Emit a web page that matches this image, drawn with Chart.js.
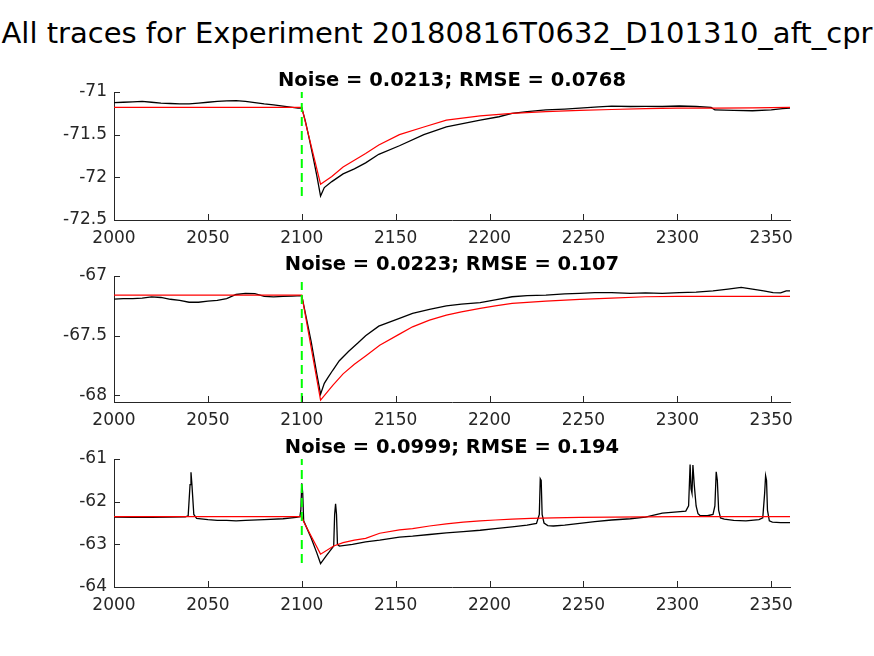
<!DOCTYPE html>
<html>
<head>
<meta charset="utf-8">
<script src="https://cdn.jsdelivr.net/npm/chart.js@4.4.1/dist/chart.umd.min.js"></script>
<style>
  body { margin: 0; background: #fff; }
  #fig { position: relative; width: 874px; height: 656px; overflow: hidden; background: #fff; }
  #fig canvas { position: absolute; left: 0; }
  #mainTitle {
    position: absolute; left: -20px; top: 16px; width: 914px; text-align: center;
    white-space: nowrap; font: 29px "DejaVu Sans", sans-serif; color: #000;
  }
</style>
</head>
<body>
<div id="fig">
  <div id="mainTitle">All traces for Experiment 20180816T0632_D101310_aft_cpr</div>
  <canvas id="c1" width="874" height="208" style="top:52px"></canvas>
  <canvas id="c2" width="874" height="206" style="top:236px"></canvas>
  <canvas id="c3" width="874" height="208" style="top:419px"></canvas>
</div>
<script>
// tick labels
const xTicks = [2000, 2050, 2100, 2150, 2200, 2250, 2300, 2350];
const yTicks1 = [-72.5, -72, -71.5, -71];
const yTicks2 = [-68, -67.5, -67];
const yTicks3 = [-64, -63, -62, -61];

// stimulus marker
const stimT = 2100;

// trace 1
const t1Black = [2000, 2005, 2010, 2015, 2020, 2025, 2030, 2035, 2040, 2045, 2050, 2055, 2060, 2065, 2070, 2075, 2080, 2085, 2090, 2095, 2098, 2100,
  2102, 2104, 2106, 2108, 2110, 2112, 2116, 2122, 2128, 2134, 2141, 2152, 2165, 2177, 2195, 2205, 2212, 2220, 2230, 2240, 2248, 2258, 2265,
  2275, 2283, 2292, 2301, 2310, 2318, 2320, 2330, 2340, 2350, 2356, 2360];
const v1Black = [-71.125, -71.12, -71.115, -71.11, -71.12, -71.13, -71.135, -71.14, -71.14, -71.13, -71.12, -71.11, -71.105, -71.10, -71.11, -71.125, -71.14, -71.15, -71.165, -71.18, -71.19, -71.185,
  -71.35, -71.55, -71.76, -71.98, -72.22, -72.12, -72.05, -71.96, -71.90, -71.83, -71.73, -71.63, -71.50, -71.41, -71.33, -71.29, -71.25, -71.23, -71.21, -71.20, -71.19, -71.175, -71.165,
  -71.17, -71.168, -71.17, -71.164, -71.17, -71.18, -71.21, -71.215, -71.22, -71.21, -71.195, -71.19];
const t1Red = [2000, 2100, 2110, 2116, 2122, 2128, 2134, 2141, 2152, 2165, 2177, 2195, 2212, 2230, 2248, 2265, 2283, 2300, 2320, 2340, 2360];
const v1Red = [-71.18, -71.18, -72.08, -71.99, -71.88, -71.80, -71.72, -71.62, -71.50, -71.41, -71.33, -71.28, -71.25, -71.23, -71.215, -71.205, -71.195, -71.19, -71.19, -71.185, -71.18];
const green1 = [-72.22, -71.0];

// trace 2
const t2Black = [2000, 2005, 2010, 2015, 2020, 2025, 2030, 2035, 2040, 2045, 2050, 2055, 2060, 2065, 2070, 2075, 2080, 2085, 2090, 2095, 2100,
  2102, 2105, 2108, 2110, 2112, 2114, 2116.5, 2120, 2125, 2130, 2134, 2141, 2152, 2159, 2168, 2177, 2185, 2195, 2203, 2212, 2220, 2230, 2240,
  2248, 2256, 2265, 2275, 2283, 2292, 2301, 2310, 2319, 2327, 2334, 2340, 2346, 2351, 2355, 2358, 2360];
const v2Black = [-67.193, -67.19, -67.19, -67.185, -67.175, -67.18, -67.195, -67.205, -67.22, -67.22, -67.21, -67.205, -67.19, -67.155, -67.145, -67.148, -67.17, -67.175, -67.17, -67.168, -67.165,
  -67.32, -67.55, -67.82, -67.99, -67.90, -67.85, -67.79, -67.71, -67.63, -67.56, -67.50, -67.42, -67.356, -67.314, -67.28, -67.25, -67.235, -67.224, -67.20, -67.174, -67.165, -67.16, -67.15,
  -67.146, -67.14, -67.14, -67.145, -67.142, -67.145, -67.14, -67.135, -67.125, -67.11, -67.095, -67.11, -67.125, -67.14, -67.142, -67.125, -67.125];
const t2Red = [2000, 2100, 2110, 2116.5, 2122, 2128, 2134, 2141.5, 2152, 2159, 2168, 2177, 2185, 2195, 2203, 2212, 2230, 2248, 2265, 2283, 2300, 2360];
const v2Red = [-67.16, -67.16, -68.04, -67.916, -67.82, -67.74, -67.67, -67.58, -67.487, -67.426, -67.37, -67.328, -67.30, -67.272, -67.25, -67.23, -67.21, -67.196, -67.185, -67.174, -67.17, -67.17];
const green2 = [-68.056, -67.05];

// trace 3
const t3Black = [2000, 2010, 2020, 2030, 2038, 2039.5, 2040.5, 2041, 2041.5, 2042.5, 2044, 2050, 2055, 2060, 2065, 2070, 2080, 2090, 2097, 2099,
  2099.5, 2100, 2100.5, 2101, 2102, 2105, 2108, 2110, 2113, 2117, 2117.5, 2118, 2118.5, 2119, 2120, 2127, 2134, 2141.5, 2152, 2159, 2168, 2177,
  2186, 2195, 2203, 2212, 2220, 2225, 2226.5, 2227, 2227.5, 2228, 2229, 2231, 2234, 2240, 2248, 2256, 2265, 2275, 2283, 2292, 2300, 2304.5,
  2306, 2306.8, 2307.3, 2307.8, 2308.3, 2309, 2310, 2311, 2312, 2316, 2319, 2320, 2320.7, 2321.3, 2322, 2323, 2325, 2330, 2336.5, 2343.5,
  2345.5, 2346.5, 2347, 2347.5, 2348, 2349, 2350.6, 2355, 2360];
const v3Black = [-62.36, -62.37, -62.37, -62.36, -62.355, -62.33, -61.6, -61.31, -61.6, -62.3, -62.39, -62.42, -62.44, -62.44, -62.45, -62.44, -62.42, -62.40, -62.37, -62.35,
  -62.2, -61.57, -61.8, -62.45, -62.55, -62.85, -63.2, -63.45, -63.27, -63.04, -62.3, -62.05, -62.3, -63.0, -63.04, -63.0, -62.94, -62.90, -62.83, -62.81, -62.77, -62.73,
  -62.70, -62.67, -62.63, -62.59, -62.55, -62.51, -62.3, -61.46, -61.5, -62.3, -62.5, -62.56, -62.57, -62.55, -62.51, -62.47, -62.43, -62.40, -62.36, -62.27, -62.24, -62.22,
  -62.1, -61.13, -61.7, -61.8, -61.14, -61.6, -62.1, -62.28, -62.32, -62.33, -62.3, -62.1, -61.30, -61.5, -62.2, -62.38, -62.41, -62.44, -62.45, -62.42,
  -62.38, -61.8, -61.39, -61.5, -62.2, -62.45, -62.48, -62.49, -62.49];
const t3Red = [2000, 2100, 2101, 2110, 2117, 2122, 2128, 2134, 2141.5, 2152, 2159, 2168, 2177, 2186, 2195, 2203, 2212, 2222, 2234, 2248, 2265, 2283, 2300, 2360];
const v3Red = [-62.35, -62.35, -62.47, -63.23, -63.04, -62.96, -62.90, -62.86, -62.74, -62.66, -62.63, -62.57, -62.52, -62.48, -62.45, -62.43, -62.41, -62.39, -62.38, -62.37, -62.36, -62.355, -62.35, -62.35];
const green3 = [-63.44, -61.0];

const AXIS = '#262626';
const FONT = '"DejaVu Sans", sans-serif';

function pts(ts, vs) {
  return ts.map((t, i) => ({ x: t, y: vs[i] }));
}

// MATLAB style: ticks point into the axes, title above the box
const matlabAxes = {
  id: 'matlabAxes',
  afterDraw(chart, args, opts) {
    const { ctx, chartArea: a, scales: { x, y } } = chart;
    ctx.save();
    ctx.strokeStyle = AXIS;
    ctx.lineWidth = 1;
    ctx.beginPath();
    x.ticks.forEach(t => {
      const px = Math.round(x.getPixelForValue(t.value)) + 0.5;
      ctx.moveTo(px, a.bottom);
      ctx.lineTo(px, a.bottom - 6);
    });
    y.ticks.forEach(t => {
      const py = Math.round(y.getPixelForValue(t.value)) + 0.5;
      ctx.moveTo(a.left, py);
      ctx.lineTo(a.left + 6, py);
    });
    ctx.stroke();
    ctx.fillStyle = '#000';
    ctx.font = 'bold 19.5px ' + FONT;
    ctx.textAlign = 'center';
    ctx.textBaseline = 'alphabetic';
    ctx.fillText(opts.text, (a.left + a.right) / 2, a.top - 6);
    ctx.restore();
  }
};

function makeChart(id, tB, vB, tR, vR, green, yMin, yMax, yTicks, title) {
  new Chart(document.getElementById(id), {
    type: 'line',
    data: {
      datasets: [
        {
          data: pts([stimT, stimT], green),
          borderColor: '#00ff00',
          borderWidth: 2,
          borderDash: [9, 5]
        },
        {
          data: pts(tR, vR),
          borderColor: '#ff0000',
          borderWidth: 1.2
        },
        {
          data: pts(tB, vB),
          borderColor: '#000000',
          borderWidth: 1.3
        }
      ]
    },
    options: {
      responsive: false,
      animation: false,
      events: [],
      layout: { padding: { top: 40, right: 84, left: 0, bottom: 0 } },
      elements: { point: { radius: 0 }, line: { tension: 0 } },
      plugins: {
        legend: { display: false },
        tooltip: { enabled: false },
        matlabAxes: { text: title }
      },
      scales: {
        x: {
          type: 'linear',
          min: 2000,
          max: 2360,
          afterBuildTicks: s => { s.ticks = xTicks.map(v => ({ value: v })); },
          afterFit: s => { s.height = 40; },
          grid: { display: false, drawTicks: false },
          border: { display: true, color: AXIS, width: 1 },
          ticks: {
            color: AXIS, padding: 8, maxRotation: 0,
            font: { family: FONT, size: 17 },
            callback: v => String(v)
          }
        },
        y: {
          min: yMin,
          max: yMax,
          afterBuildTicks: s => { s.ticks = yTicks.map(v => ({ value: v })); },
          afterFit: s => { s.width = 114; },
          grid: { display: false, drawTicks: false },
          border: { display: true, color: AXIS, width: 1 },
          ticks: {
            color: AXIS, padding: 7,
            font: { family: FONT, size: 17 },
            callback: v => String(v)
          }
        }
      }
    },
    plugins: [matlabAxes]
  });
}

makeChart('c1', t1Black, v1Black, t1Red, v1Red, green1, -72.5, -71, yTicks1, 'Noise = 0.0213; RMSE = 0.0768');
makeChart('c2', t2Black, v2Black, t2Red, v2Red, green2, -68.056, -67, yTicks2, 'Noise = 0.0223; RMSE = 0.107');
makeChart('c3', t3Black, v3Black, t3Red, v3Red, green3, -64, -61, yTicks3, 'Noise = 0.0999; RMSE = 0.194');
</script>
</body>
</html>
